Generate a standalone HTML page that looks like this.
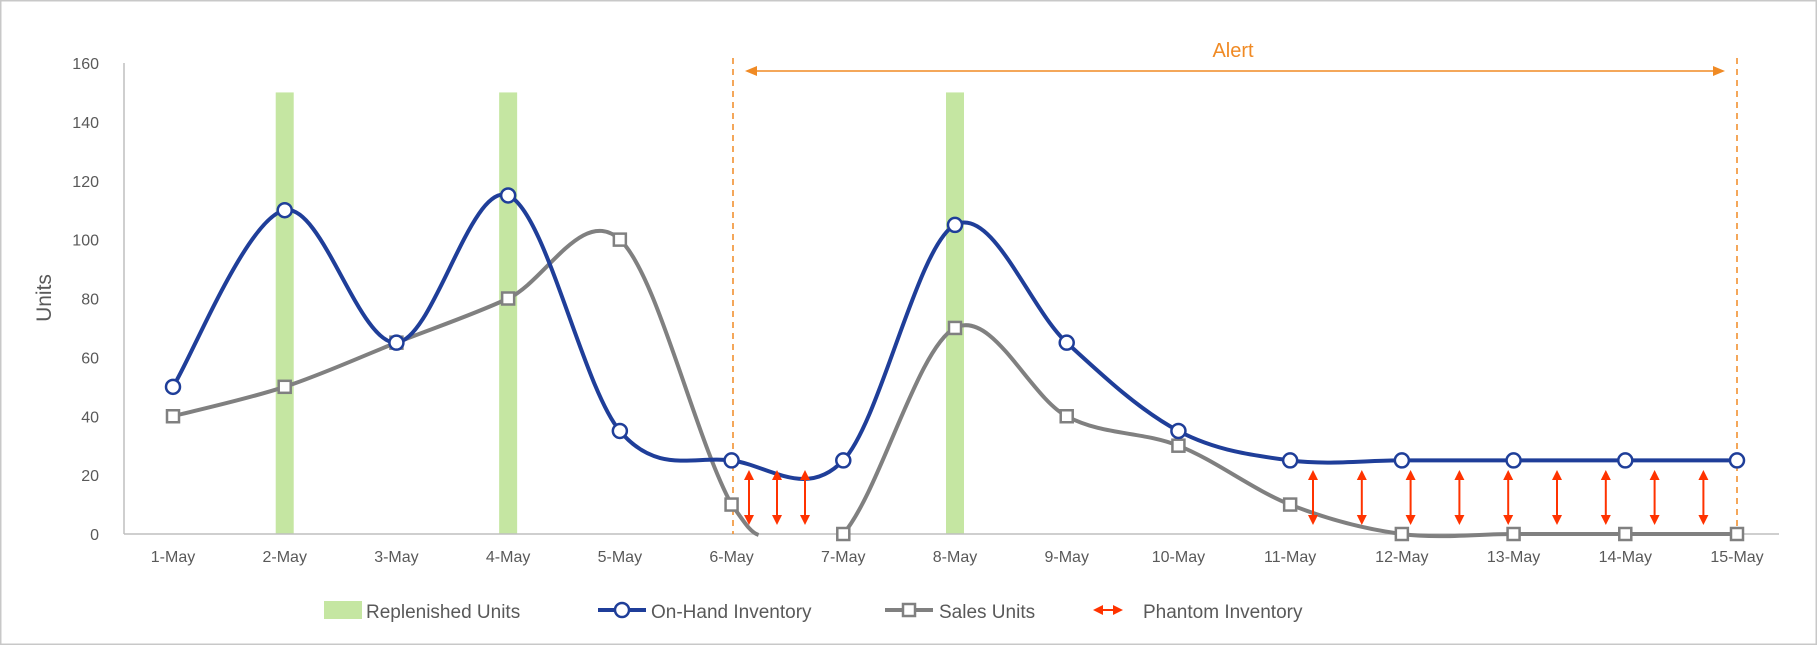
<!DOCTYPE html>
<html><head><meta charset="utf-8"><style>
html,body{margin:0;padding:0;background:#fff}
svg{display:block}
text{font-family:"Liberation Sans",sans-serif}
</style></head><body>
<svg id="s" width="1817" height="645" xmlns="http://www.w3.org/2000/svg">
<rect x="0.5" y="0.5" width="1816" height="644" fill="#fff" stroke="#c8c8c8" stroke-width="2"/>
<g id="g"></g>
</svg>
<script>
var NS="http://www.w3.org/2000/svg",g=document.getElementById('g');
function el(t,a,txt){var e=document.createElementNS(NS,t);for(var k in a)e.setAttribute(k,a[k]);if(txt!=null)e.textContent=txt;g.appendChild(e);return e;}
var X0=173,DX=(1737-173)/14,Y0=534,SY=(534-63)/160;
function X(i){return X0+DX*i;} function Y(v){return Y0-v*SY;}
for(var v=0;v<=160;v+=20){el('text',{x:99,y:Y(v)+6,'text-anchor':'end','font-size':16,fill:'#595959'},v);}
el('line',{x1:124,y1:63,x2:124,y2:534,stroke:'#bfbfbf','stroke-width':1.5});
[1,3,7].forEach(function(i){el('rect',{x:X(i)-9,y:Y(150),width:18,height:Y(0)-Y(150),fill:'#c5e6a2'});});
el('line',{x1:124,y1:534,x2:1779,y2:534,stroke:'#bfbfbf','stroke-width':1.5});
for(var i=0;i<15;i++){el('text',{x:X(i),y:562,'text-anchor':'middle','font-size':16,fill:'#595959'},(i+1)+'-May');}
el('text',{x:0,y:0,transform:'translate(51,298) rotate(-90)','text-anchor':'middle','font-size':21,fill:'#595959'},'Units');
el('line',{x1:733,y1:58,x2:733,y2:534,stroke:'#f08a24','stroke-width':1.5,'stroke-dasharray':'6,5'});
el('line',{x1:1737,y1:58,x2:1737,y2:534,stroke:'#f08a24','stroke-width':1.5,'stroke-dasharray':'6,5'});
el('line',{x1:755,y1:71,x2:1714,y2:71,stroke:'#f08a24','stroke-width':1.6});
el('polygon',{points:'745,71 757,66 757,76',fill:'#f08a24'});
el('polygon',{points:'1725,71 1713,66 1713,76',fill:'#f08a24'});
el('text',{x:1233,y:57,'text-anchor':'middle','font-size':20,fill:'#f08a24'},'Alert');
function spline(pts,ext){var d='M'+pts[0][0]+','+pts[0][1];
 for(var i=0;i<pts.length-1;i++){var p0=pts[i-1]||ext.pre||pts[i],p1=pts[i],p2=pts[i+1],p3=pts[i+2]||ext.post||p2;
  var c1=[p1[0]+(p2[0]-p0[0])/6,p1[1]+(p2[1]-p0[1])/6],c2=[p2[0]-(p3[0]-p1[0])/6,p2[1]-(p3[1]-p1[1])/6];
  d+=' C'+c1[0]+','+c1[1]+' '+c2[0]+','+c2[1]+' '+p2[0]+','+p2[1];}
 return d;}
var oh=[50,110,65,115,35,25,25,105,65,35,25,25,25,25,25];
var sa=[40,50,65,80,100,10,0,70,40,30,10,0,0,0,0];
var ohp=oh.map(function(v,i){return [X(i),Y(v)];});
var s1=[];for(var i=0;i<6;i++)s1.push([X(i),Y(sa[i])]);
el('path',{d:spline(s1,{post:[X(6),Y(-40)]})+' C'+(X(5)+12)+','+(Y(10)+16)+' '+(X(5)+18)+','+(Y(0)-2)+' '+(X(5)+27)+','+(Y(0)+1),fill:'none',stroke:'#808080','stroke-width':4});
var s2=[];for(var i=6;i<15;i++)s2.push([X(i),Y(sa[i])]);
el('path',{d:spline(s2,{pre:[X(5),Y(-20)]}),fill:'none',stroke:'#808080','stroke-width':4});
el('path',{d:spline(ohp,{}),fill:'none',stroke:'#1f3e99','stroke-width':4});
sa.forEach(function(v,i){el('rect',{x:X(i)-6,y:Y(v)-6,width:12,height:12,fill:'#fff',stroke:'#808080','stroke-width':2.5});});
ohp.forEach(function(p){el('circle',{cx:p[0],cy:p[1],r:7,fill:'#fff',stroke:'#1f3e99','stroke-width':2.5});});
function varrow(x,y1,y2){el('line',{x1:x,y1:y1+8,x2:x,y2:y2-8,stroke:'#ff3300','stroke-width':2});
 el('polygon',{points:x+','+y1+' '+(x-5)+','+(y1+10)+' '+(x+5)+','+(y1+10),fill:'#ff3300'});
 el('polygon',{points:x+','+y2+' '+(x-5)+','+(y2-10)+' '+(x+5)+','+(y2-10),fill:'#ff3300'});}
[749,777,805].forEach(function(x){varrow(x,470,525);});
for(var k=0;k<9;k++)varrow(1313+48.8*k,470,525);
el('rect',{x:324,y:601,width:38,height:18,fill:'#c5e6a2'});
el('text',{x:366,y:618,'font-size':19,fill:'#595959'},'Replenished Units');
el('line',{x1:598,y1:610,x2:646,y2:610,stroke:'#1f3e99','stroke-width':4});
el('circle',{cx:622,cy:610,r:7,fill:'#fff',stroke:'#1f3e99','stroke-width':2.5});
el('text',{x:651,y:618,'font-size':19,fill:'#595959'},'On-Hand Inventory');
el('line',{x1:885,y1:610,x2:933,y2:610,stroke:'#808080','stroke-width':4});
el('rect',{x:903,y:604,width:12,height:12,fill:'#fff',stroke:'#808080','stroke-width':2.5});
el('text',{x:939,y:618,'font-size':19,fill:'#595959'},'Sales Units');
el('line',{x1:1100,y1:610,x2:1116,y2:610,stroke:'#ff3300','stroke-width':2});
el('polygon',{points:'1093,610 1103,605 1103,615',fill:'#ff3300'});
el('polygon',{points:'1123,610 1113,605 1113,615',fill:'#ff3300'});
el('text',{x:1143,y:618,'font-size':19,fill:'#595959'},'Phantom Inventory');
</script>
</body></html>
